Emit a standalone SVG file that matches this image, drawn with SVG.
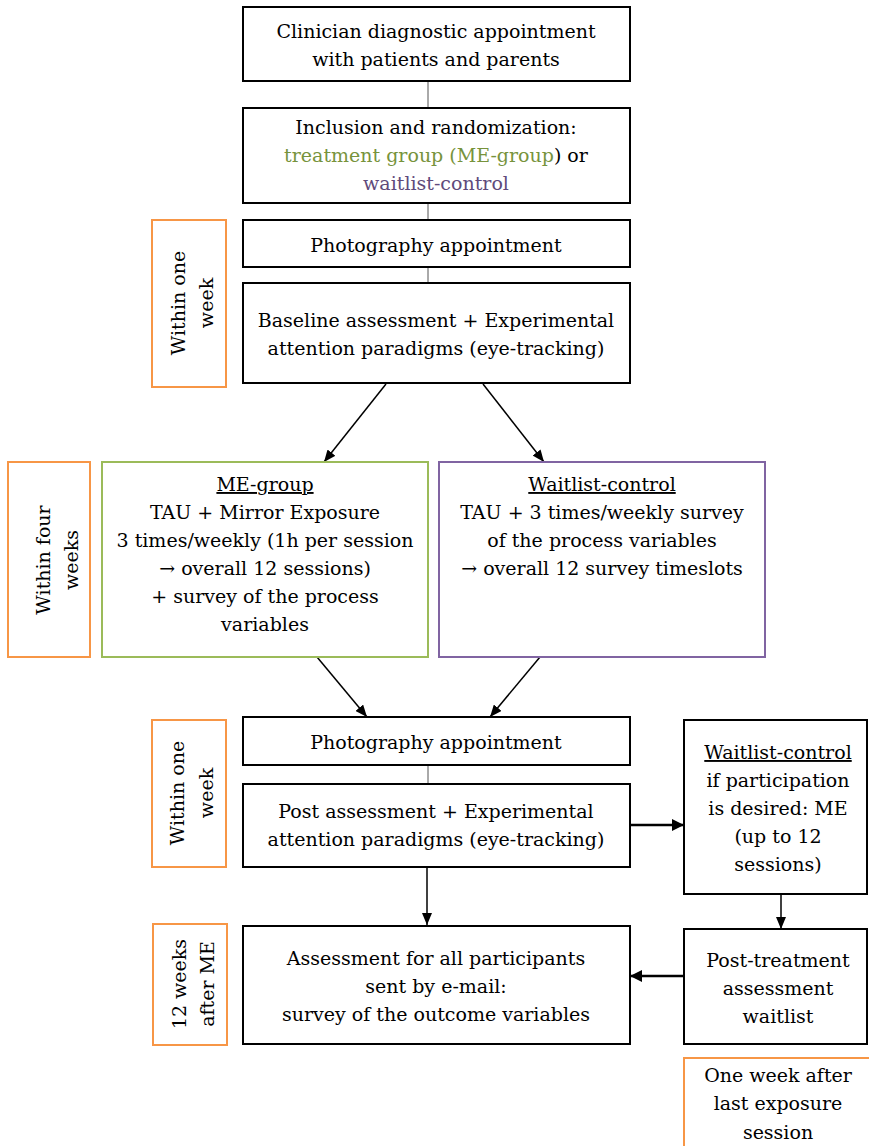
<svg xmlns="http://www.w3.org/2000/svg" width="869" height="1146" viewBox="0 0 869 1146">
<defs>
<style>
text{font-family:"DejaVu Serif","Liberation Serif",serif;font-size:19px;fill:#000;text-anchor:middle}
.box{fill:#fff;stroke:#000;stroke-width:2}
.org{fill:#fff;stroke:#F79646;stroke-width:2}
.grn{fill:#fff;stroke:#9BBB59;stroke-width:2}
.pur{fill:#fff;stroke:#8064A2;stroke-width:2}
.thin{stroke:#555;stroke-width:1;fill:none}
.arr{stroke:#000;stroke-width:1.5;fill:none;marker-end:url(#ah)}
.arr2{stroke:#000;stroke-width:2.5;fill:none;marker-end:url(#ah2)}
.u{text-decoration:underline}
.gt{fill:#77933C}
.pt{fill:#604A7B}
</style>
<marker id="ah" markerUnits="userSpaceOnUse" markerWidth="12" markerHeight="10" refX="12" refY="5" orient="auto"><path d="M0,0 L12,5 L0,10 Z" fill="#000"/></marker>
<marker id="ah2" markerUnits="userSpaceOnUse" markerWidth="12" markerHeight="12" refX="12" refY="6" orient="auto"><path d="M0,0 L12,6 L0,12 Z" fill="#000"/></marker>
</defs>
<rect width="869" height="1146" fill="#fff"/>
<g id="connectors">
<line class="thin" x1="428" y1="81" x2="428" y2="108"/>
<line class="thin" x1="428" y1="203" x2="428" y2="220"/>
<line class="thin" x1="428" y1="267" x2="428" y2="283"/>
<line class="arr" x1="386" y1="384" x2="324" y2="462"/>
<line class="arr" x1="483" y1="384" x2="544" y2="462"/>
<line class="arr" x1="317" y1="657" x2="367" y2="717"/>
<line class="arr" x1="540" y1="657" x2="490" y2="717"/>
<line class="thin" x1="428" y1="765" x2="428" y2="784"/>
<line class="arr2" x1="630" y1="825" x2="684" y2="825"/>
<line class="arr" x1="427" y1="867" x2="427" y2="925"/>
<line class="arr" x1="781" y1="894" x2="781" y2="929"/>
<line class="arr2" x1="684" y1="976" x2="630" y2="976"/>
</g>
<g id="n-clinician">
<rect class="box" x="243" y="7" width="387" height="74"/>
<text x="436" y="38">Clinician diagnostic appointment</text>
<text x="436" y="66">with patients and parents</text>
</g>
<g id="n-inclusion">
<rect class="box" x="243" y="108" width="387" height="95"/>
<text x="436" y="134">Inclusion and randomization:</text>
<text x="436" y="162"><tspan class="gt">treatment group (ME-group</tspan>) or</text>
<text x="436" y="190" class="pt">waitlist-control</text>
</g>
<g id="n-week1">
<rect class="org" x="152" y="220" width="74" height="167"/>
<text transform="translate(185,303) rotate(-90)">Within one</text>
<text transform="translate(213,303) rotate(-90)">week</text>
</g>
<g id="n-photo1">
<rect class="box" x="243" y="220" width="387" height="47"/>
<text x="436" y="252">Photography appointment</text>
</g>
<g id="n-baseline">
<rect class="box" x="243" y="283" width="387" height="100"/>
<text x="436" y="327">Baseline assessment + Experimental</text>
<text x="436" y="355">attention paradigms (eye-tracking)</text>
</g>
<g id="n-fourweeks">
<rect class="org" x="8" y="462" width="82" height="195"/>
<text transform="translate(50,560) rotate(-90)">Within four</text>
<text transform="translate(78,560) rotate(-90)">weeks</text>
</g>
<g id="n-megroup">
<rect class="grn" x="102" y="462" width="326" height="195"/>
<text x="265" y="491" class="u">ME-group</text>
<text x="265" y="519">TAU + Mirror Exposure</text>
<text x="265" y="547">3 times/weekly (1h per session</text>
<text x="265" y="575">→ overall 12 sessions)</text>
<text x="265" y="603">+ survey of the process</text>
<text x="265" y="631">variables</text>
</g>
<g id="n-waitlist">
<rect class="pur" x="439" y="462" width="326" height="195"/>
<text x="602" y="491" class="u">Waitlist-control</text>
<text x="602" y="519">TAU + 3 times/weekly survey</text>
<text x="602" y="547">of the process variables</text>
<text x="602" y="575">→ overall 12 survey timeslots</text>
</g>
<g id="n-week2">
<rect class="org" x="152" y="720" width="74" height="147"/>
<text transform="translate(184,793) rotate(-90)">Within one</text>
<text transform="translate(213,793) rotate(-90)">week</text>
</g>
<g id="n-photo2">
<rect class="box" x="243" y="717" width="387" height="48"/>
<text x="436" y="749">Photography appointment</text>
</g>
<g id="n-post">
<rect class="box" x="243" y="784" width="387" height="83"/>
<text x="436" y="818">Post assessment + Experimental</text>
<text x="436" y="846">attention paradigms (eye-tracking)</text>
</g>
<g id="n-wl-me">
<rect class="box" x="684" y="720" width="183" height="174"/>
<text x="778" y="759" class="u">Waitlist-control</text>
<text x="778" y="787">if participation</text>
<text x="778" y="815">is desired: ME</text>
<text x="778" y="843">(up to 12</text>
<text x="778" y="871">sessions)</text>
</g>
<g id="n-12weeks">
<rect class="org" x="153" y="924" width="74" height="121"/>
<text transform="translate(186,984) rotate(-90)">12 weeks</text>
<text transform="translate(214,984) rotate(-90)">after ME</text>
</g>
<g id="n-assessment">
<rect class="box" x="243" y="926" width="387" height="118"/>
<text x="436" y="965">Assessment for all participants</text>
<text x="436" y="993">sent by e-mail:</text>
<text x="436" y="1021">survey of the outcome variables</text>
</g>
<g id="n-posttreat">
<rect class="box" x="684" y="929" width="183" height="115"/>
<text x="778" y="967">Post-treatment</text>
<text x="778" y="995">assessment</text>
<text x="778" y="1023">waitlist</text>
</g>
<g id="n-oneweekafter">
<rect class="org" x="684" y="1058" width="200" height="100"/>
<text x="778" y="1082">One week after</text>
<text x="778" y="1110">last exposure</text>
<text x="778" y="1139">session</text>
</g>
</svg>
